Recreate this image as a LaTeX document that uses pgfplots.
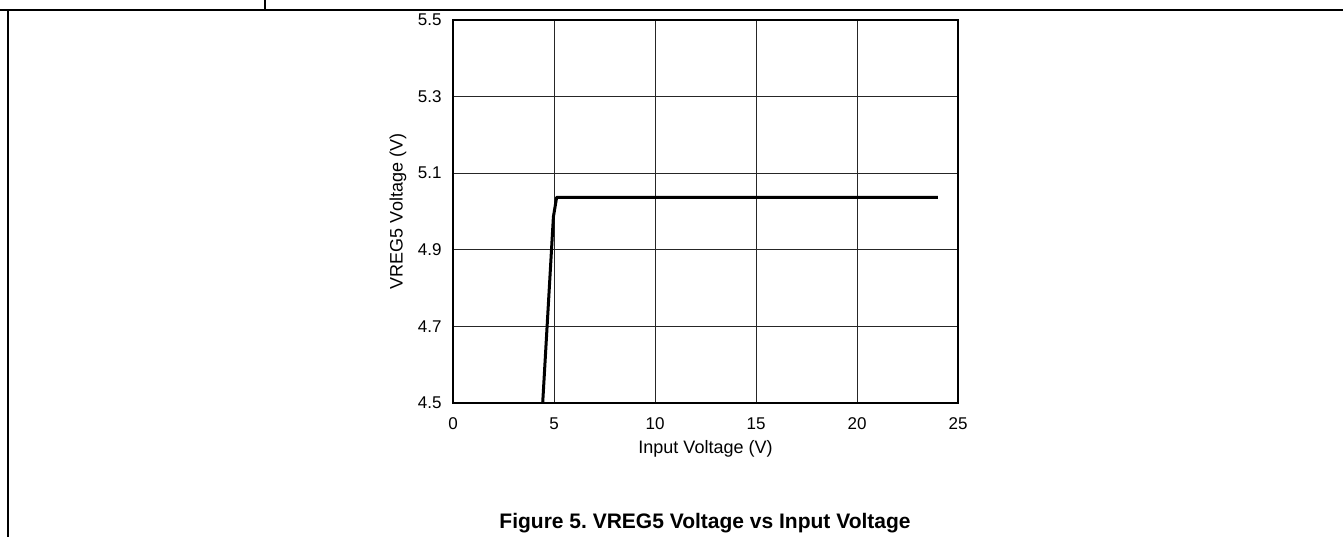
\documentclass[border=0pt]{standalone}
\usepackage{fontspec}
\setmainfont{Liberation Sans}
\usepackage{pgfplots}
\pgfplotsset{compat=1.18}
\frenchspacing
\begin{document}
\begin{tikzpicture}[x=1pt,y=1pt]
\useasboundingbox (0,0) rectangle (1343,537);
\draw[line width=2pt] (0,527) -- (1343,527);
\draw[line width=2pt] (265,527) -- (265,537);
\draw[line width=2pt] (8,0) -- (8,527);
\begin{axis}[
  at={(453pt,134pt)}, anchor=south west,
  scale only axis, width=505pt, height=383pt,
  xmin=0, xmax=25, ymin=4.5, ymax=5.5,
  xtick={0,5,10,15,20,25},
  ytick={4.5,4.7,4.9,5.1,5.3,5.5},
  yticklabel style={/pgf/number format/fixed,/pgf/number format/fixed zerofill,/pgf/number format/precision=1, xshift=-8pt},
  xticklabel style={yshift=-11pt},
  /pgf/number format/assume math mode=true,
  grid=major,
  major grid style={black!85, line width=1pt},
  axis line style={line width=2.5pt},
  major tick length=0pt,
  ticklabel style={font=\fontsize{17}{20}\selectfont},
  label style={font=\fontsize{18}{21}\selectfont},
  xlabel={Input Voltage (V)},
  ylabel={VREG5 Voltage (V)},
  xlabel style={at={(axis description cs:0.5,0)}, anchor=base, yshift=-51pt},
  ylabel style={at={([xshift=-55pt]axis description cs:0,0.5)}, anchor=center},
]
\addplot[black, line width=3pt, line join=round] coordinates {
  (4.44,4.5) (4.97,4.986) (5.13,5.037) (24,5.037)
};
\end{axis}
\node[font=\bfseries\fontsize{21}{24}\selectfont, anchor=base] at (705,8) {Figure 5. VREG5 Voltage vs Input Voltage};
\end{tikzpicture}
\end{document}
